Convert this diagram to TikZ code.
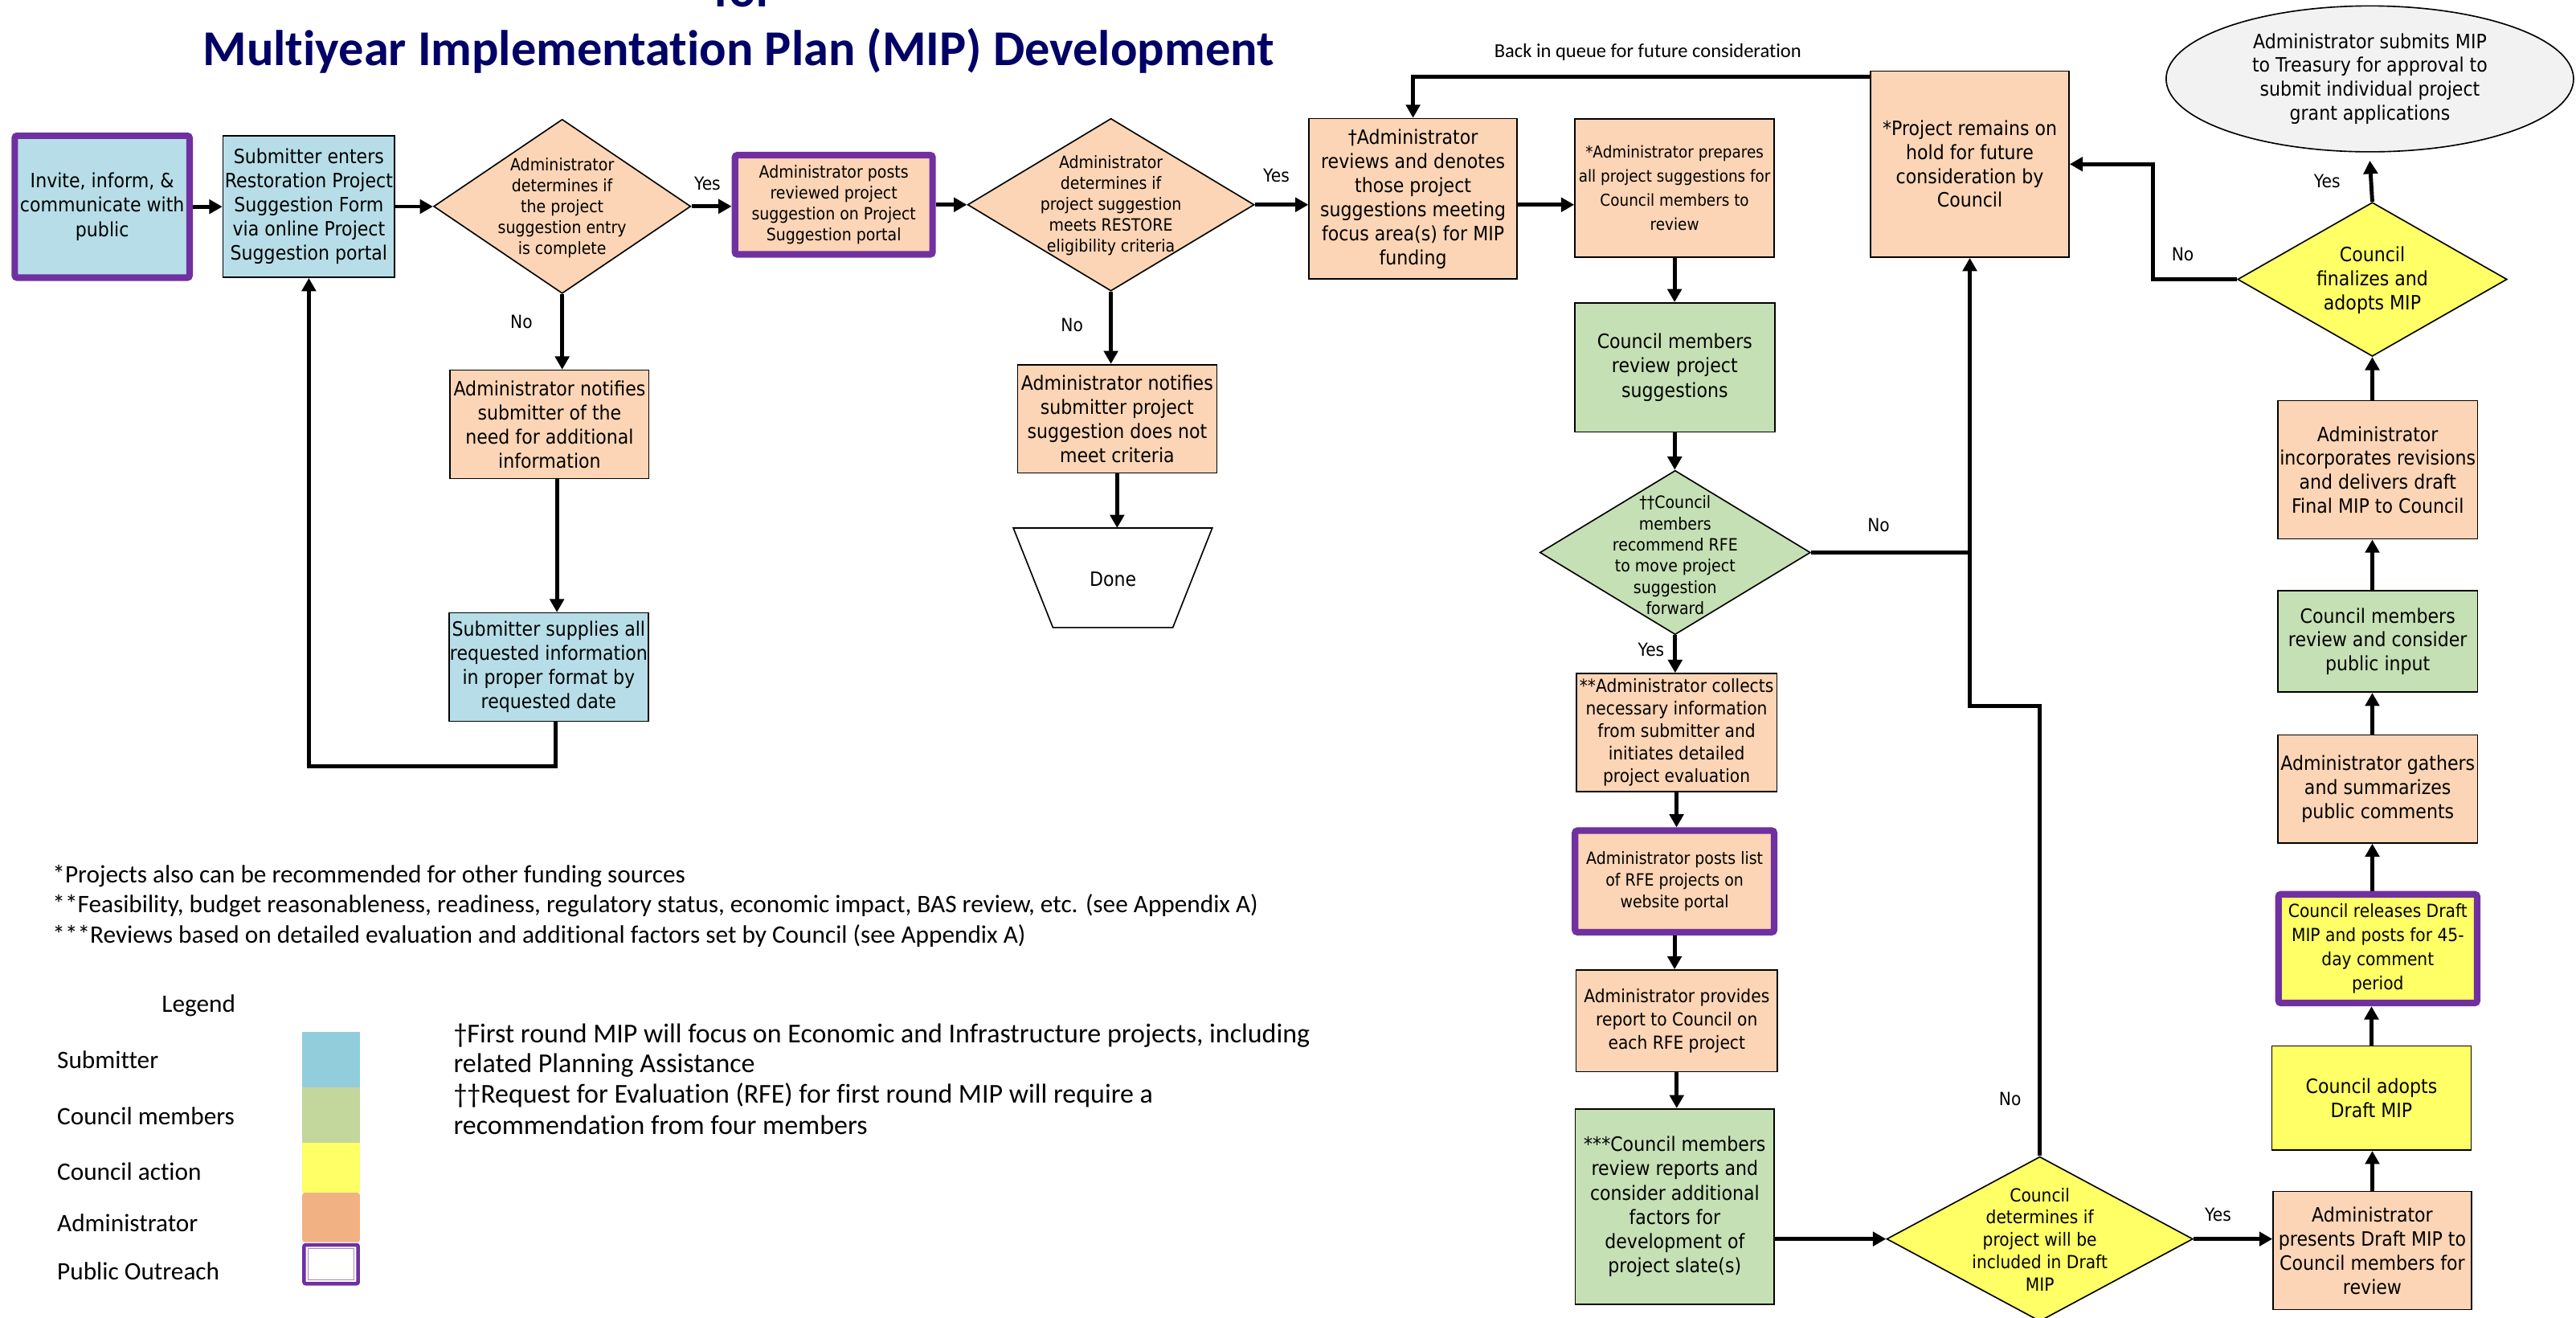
\documentclass[tikz,border=0pt]{standalone}
\usepackage{fontspec}
\setmainfont{Carlito}[Ligatures=CommonOff]
\newfontfamily\tah[FakeStretch=0.9]{DejaVu Sans}
\usetikzlibrary{arrows.meta,shapes.geometric}
\definecolor{sblue}{HTML}{B7DEE8}
\definecolor{peach}{HTML}{FBD5B5}
\definecolor{cgreen}{HTML}{C5E0B4}
\definecolor{cyellow}{HTML}{FFFF66}
\definecolor{pubp}{HTML}{7030A0}
\definecolor{navy}{HTML}{000066}
\definecolor{lgray}{HTML}{F2F2F2}
\definecolor{lgblue}{HTML}{92CDDC}
\definecolor{lggreen}{HTML}{C3D69B}
\definecolor{lgorange}{HTML}{F2B183}
\newcommand\fsz[2]{\fontsize{#1}{#2}\selectfont}
\begin{document}
\begin{tikzpicture}[x=1pt,y=-1pt,
  box/.style={rectangle, draw=black, line width=0.8pt, inner sep=0pt, align=center},
  pbox/.style={rectangle, draw=pubp, line width=4pt, inner sep=0pt, align=center, rounded corners=1.5pt},
  dia/.style={diamond, draw=black, line width=0.8pt, inner sep=0pt},
  txt/.style={inner sep=0pt, align=center},
  tA/.style={font=\tah\fsz{12}{14.7}},
  tB/.style={font=\tah\fsz{10.3}{12.8}},
  tC/.style={font=\tah\fsz{11}{13.7}},
  lab/.style={font=\tah\fsz{11}{13}, inner sep=0pt},
  note/.style={font=\fsz{15.3}{18}, inner sep=0pt, anchor=west},
  dnote/.style={font=\fsz{16.6}{18}, inner sep=0pt, anchor=west},
  arr/.style={line width=2.4pt, -{Triangle[length=8pt,width=8.5pt]}},
  conn/.style={line width=2.4pt},
  sz/.style 2 args={minimum width=#1pt, minimum height=#2pt}]
\useasboundingbox (0,0) rectangle (1568,802);
\fill[white] (0,0) rectangle (1568,802);

% title
\node[font=\bfseries\fsz{30.5}{36}, text=navy, anchor=base, inner sep=0pt] (title) at (449.5,40) {Multiyear Implementation Plan (MIP) Development};
\node[font=\bfseries\fsz{30.5}{36}, text=navy, anchor=base, inner sep=0pt] (titlefor) at (453,4) {for};

% row 1
\node[pbox, fill=sblue, tA, sz={106.4}{86.4}] (invite) at (62.2,125.8) {Invite, inform, \&\\communicate with\\public};
\node[box, fill=sblue, tA, sz={104.5}{86.2}] (subm) at (188,125.7) {Submitter enters\\Restoration Project\\Suggestion Form\\via online Project\\Suggestion portal};
\node[dia, fill=peach, sz={156.5}{106}] (d1) at (342.2,125.6) {};
\node[txt, tB] (d1t) at (342.2,126.5) {Administrator\\determines if\\the project\\suggestion entry\\is complete};
\node[pbox, fill=peach, tB, sz={120.3}{60.4}] (posts) at (507.5,124.6) {Administrator posts\\reviewed project\\suggestion on Project\\Suggestion portal};
\node[dia, fill=peach, sz={174.5}{105}] (d2) at (676.2,124.6) {};
\node[txt, tB] (d2t) at (676.2,125) {Administrator\\determines if\\project suggestion\\meets RESTORE\\eligibility criteria};
\node[box, fill=peach, tA, sz={126.6}{97.7}] (rev) at (860.1,121) {†Administrator\\reviews and denotes\\those project\\suggestions meeting\\focus area(s) for MIP\\funding};
\node[box, fill=peach, font=\tah\fsz{10}{14.6}, sz={121.4}{84.3}] (prep) at (1019.3,114.4) {*Administrator prepares\\all project suggestions for\\Council members to\\review};
\node[box, fill=peach, font=\tah\fsz{12}{14.5}, sz={120.8}{113.3}] (hold) at (1199,99.9) {*Project remains on\\hold for future\\consideration by\\Council};
\node[ellipse, draw=black, line width=0.8pt, fill=lgray, inner sep=0pt, align=center, font=\tah\fsz{12}{14.6}, sz={248}{88.8}] (ell) at (1442.5,48) {Administrator submits MIP\\to Treasury for approval to\\submit individual project\\grant applications};
\node[dia, fill=cyellow, sz={164}{93.7}] (fin) at (1444,170) {};
\node[txt, font=\tah\fsz{12}{14.6}] (fint) at (1444,170.7) {Council\\finalizes and\\adopts MIP};

% left branch
\node[box, fill=peach, tA, sz={121}{66}] (notify1) at (334.5,258.3) {Administrator notifies\\submitter of the\\need for additional\\information};
\node[box, fill=sblue, tA, sz={121.4}{66}] (supplies) at (334,406) {Submitter supplies all\\requested information\\in proper format by\\requested date};
\node[box, fill=peach, tA, sz={121.3}{66}] (notify2) at (680,254.9) {Administrator notifies\\submitter project\\suggestion does not\\meet criteria};
\draw[line width=0.8pt, fill=white] (616.8,321.3) -- (737.9,321.3) -- (713.9,381.9) -- (640.9,381.9) -- cycle;
\coordinate (donetop) at (677.4,321.3);
\node[txt, tA] (done) at (677.4,352.3) {Done};

% middle column
\node[box, fill=cgreen, tA, sz={121.8}{78.6}] (crev1) at (1019.4,223.6) {Council members\\review project\\suggestions};
\node[dia, fill=cgreen, sz={164.7}{99.9}] (rfe) at (1019.65,336.25) {};
\node[txt, font=\tah\fsz{10.3}{12.9}] (rfet) at (1019.65,337.9) {††Council\\members\\recommend RFE\\to move project\\suggestion\\forward};
\node[box, fill=peach, tC, sz={122.1}{71.8}] (coll) at (1020.5,445.8) {**Administrator collects\\necessary information\\from submitter and\\initiates detailed\\project evaluation};
\node[pbox, fill=peach, font=\tah\fsz{10.3}{13}, sz={121.2}{61.8}] (plist) at (1019.3,536.4) {Administrator posts list\\of RFE projects on\\website portal};
\node[box, fill=peach, font=\tah\fsz{11}{14}, sz={122.6}{61.9}] (prov) at (1020.6,621.25) {Administrator provides\\report to Council on\\each RFE project};
\node[box, fill=cgreen, font=\tah\fsz{12}{14.8}, sz={121.2}{119.1}] (c3) at (1019.4,734.35) {***Council members\\review reports and\\consider additional\\factors for\\development of\\project slate(s)};
\node[dia, fill=cyellow, sz={186.4}{100.2}] (cdet) at (1241.6,754) {};
\node[txt, font=\tah\fsz{11}{13.6}] (cdett) at (1241.6,754.2) {Council\\determines if\\project will be\\included in Draft\\MIP};

% right column
\node[box, fill=peach, font=\tah\fsz{12}{14.55}, sz={121.4}{84.1}] (incorp) at (1447.3,285.9) {Administrator\\incorporates revisions\\and delivers draft\\Final MIP to Council};
\node[box, fill=cgreen, font=\tah\fsz{12}{14.55}, sz={121.4}{61.9}] (crev) at (1447.3,390.3) {Council members\\review and consider\\public input};
\node[box, fill=peach, font=\tah\fsz{12}{14.55}, sz={121.4}{65.8}] (gath) at (1447.3,480.1) {Administrator gathers\\and summarizes\\public comments};
\node[pbox, fill=cyellow, font=\tah\fsz{11}{14.6}, sz={120.9}{66.2}] (rel) at (1447.35,577.3) {Council releases Draft\\MIP and posts for 45-\\day comment\\period};
\node[box, fill=cyellow, font=\tah\fsz{12}{14.3}, sz={121.2}{63.5}] (adopt) at (1443.5,668.25) {Council adopts\\Draft MIP};
\node[box, fill=peach, tA, sz={120.8}{71.9}] (pres) at (1444,761) {Administrator\\presents Draft MIP to\\Council members for\\review};

% connectors
\draw[arr] (invite.east) -- (invite.east -| subm.west);
\draw[arr] (subm.east) -- (subm.east -| d1.west);
\draw[arr] (d1.east) -- (d1.east -| posts.west);
\draw[arr] (posts.east) -- (posts.east -| d2.west);
\draw[arr] (d2.east) -- (d2.east -| rev.west);
\draw[arr] (rev.east |- d2.east) -- (d2.east -| prep.west);
\draw[arr] (d1.south) -- (d1.south |- notify1.north);
\draw[arr] ([xshift=4.5pt]notify1.south) -- ([xshift=4.5pt]notify1.south |- supplies.north);
\draw[arr] ([xshift=4pt]supplies.south) -- ++(0,27) -| (subm.south);
\draw[arr] (d2.south) -- (d2.south |- notify2.north);
\draw[arr] (notify2.south) -- (notify2.south |- donetop);
\draw[arr] ([yshift=-4pt]hold.north west) -| (rev.north);
\draw[arr] (prep.south) -- (prep.south |- crev1.north);
\draw[arr] (crev1.south) -- (crev1.south |- rfe.north);
\draw[arr] (rfe.south) -- (rfe.south |- coll.north);
\draw[arr] (coll.south) -- (coll.south |- plist.north);
\draw[arr] (plist.south) -- (plist.south |- prov.north);
\draw[arr] (prov.south) -- (prov.south |- c3.north);
\draw[arr] (c3.east |- cdet.west) -- (cdet.west);
\draw[arr] (cdet.east) -- (cdet.east -| pres.west);
\draw[arr] (pres.north) -- (pres.north |- adopt.south);
\draw[arr] (adopt.north) -- (adopt.north |- rel.south);
\draw[arr] (fin.south |- rel.north) -- (fin.south |- gath.south);
\draw[arr] (fin.south |- gath.north) -- (fin.south |- crev.south);
\draw[arr] (fin.south |- crev.north) -- (fin.south |- incorp.south);
\draw[arr] (fin.south |- incorp.north) -- (fin.south);
\draw[arr] (fin.north) -- ([yshift=-5pt]ell.south);
\draw[arr] (fin.west) -- ++(-51,0) |- (hold.east);
\draw[arr] (cdet.north) -- ++(0,-273.9) -| (hold.south);
\draw[conn] (rfe.east) -- (rfe.east -| hold.south);

% labels
\node[lab] (y1) at (430.6,111.5) {Yes};
\node[lab] (n1) at (317.4,196) {No};
\node[lab] (y2) at (776.9,106.8) {Yes};
\node[lab] (n2) at (652.5,198) {No};
\node[font=\fsz{12}{14}, inner sep=0pt] (bq) at (1003,32) {Back in queue for future consideration};
\node[lab] (n3) at (1143.5,319.7) {No};
\node[lab] (y3) at (1005,395.4) {Yes};
\node[lab] (n4) at (1223.5,668.7) {No};
\node[lab] (y4) at (1350.1,739.3) {Yes};
\node[lab] (n5) at (1328.6,154.9) {No};
\node[lab] (y5) at (1416.5,110.4) {Yes};

% footnotes
\node[note] (fn1) at (31.8,532.9) {*Projects also can be recommended for other funding sources};
\node[note] (fn2) at (31.8,551.2) {**Feasibility, budget reasonableness, readiness, regulatory status, economic impact, BAS review, etc. (see Appendix A)};
\node[note] (fn3) at (31.8,569.6) {***Reviews based on detailed evaluation and additional factors set by Council (see Appendix A)};

% legend
\node[font=\fsz{15.3}{18}, inner sep=0pt] (leg) at (120.9,611.8) {Legend};
\node[note] (lg1) at (34.6,645.1) {Submitter};
\node[note] (lg2) at (34.6,679) {Council members};
\node[note] (lg3) at (34.6,713) {Council action};
\node[note] (lg4) at (34.6,744.3) {Administrator};
\node[note] (lg5) at (34.6,773.7) {Public Outreach};
\fill[lgblue] (184,627.9) rectangle (219.1,661.6);
\fill[lggreen] (184,661.6) rectangle (219.1,695.4);
\fill[cyellow] (184,695.4) rectangle (219.1,725.9);
\fill[lgorange, rounded corners=1.5pt] (184,725.9) rectangle (219.1,755.9);
\draw[pubp, line width=2.2pt, fill=white, rounded corners=1pt] (185.1,757.6) rectangle (218,781.2);
\draw[pubp!60, line width=0.5pt] (187.5,760) rectangle (215.6,778.8);

% dagger notes
\node[dnote] (dn1) at (275.9,630.3) {†First round MIP will focus on Economic and Infrastructure projects, including};
\node[dnote] (dn2) at (275.9,648.3) {related Planning Assistance};
\node[dnote] (dn3) at (275.9,666.7) {††Request for Evaluation (RFE) for first round MIP will require a};
\node[dnote] (dn4) at (275.9,684.5) {recommendation from four members};
\end{tikzpicture}
\end{document}
